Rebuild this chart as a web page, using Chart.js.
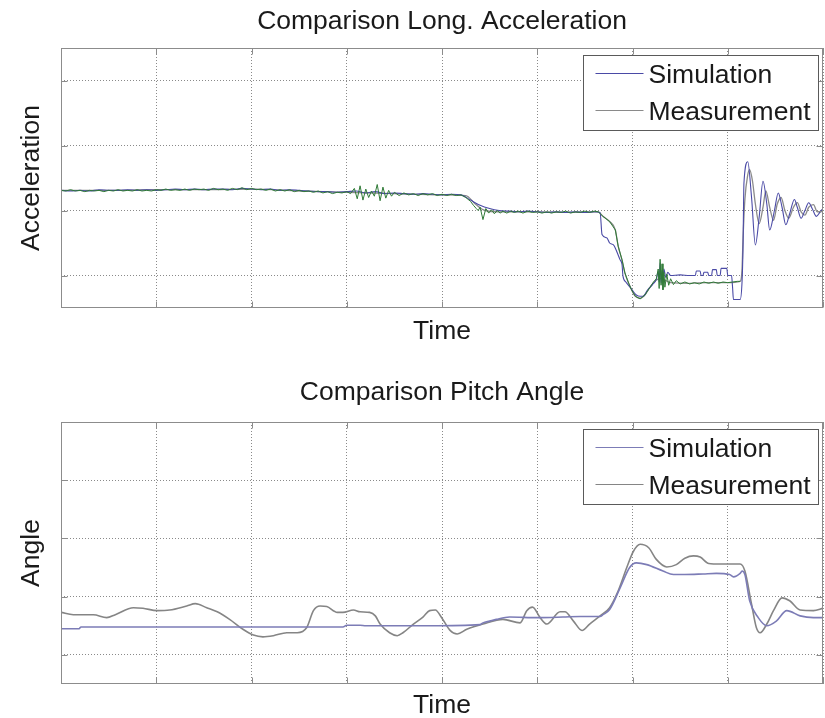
<!DOCTYPE html>
<html>
<head>
<meta charset="utf-8">
<script src="https://cdn.jsdelivr.net/npm/chart.js@4.4.1/dist/chart.umd.min.js"></script>
<style>
  html, body { margin: 0; padding: 0; background: #fff; overflow: hidden; }
  #wrap { position: relative; width: 825px; height: 718px; }
  canvas { position: absolute; left: 0; }
</style>
</head>
<body>
<div id="wrap">
  <canvas id="accChart" width="825" height="358" style="top:0px"></canvas>
  <canvas id="pitchChart" width="825" height="362" style="top:358px"></canvas>
</div>
<script>
// ---------- DATA (time in grid units, values in grid units, no real scale shown)
var timeTicks = [0, 1, 2, 3, 4, 5, 6, 7, 8];
var accYTicks = [0, 1, 2, 3];
var pitchYTicks = [0, 1, 2, 3];

// LONG. ACCELERATION - simulation
var accSimT = [
  0.00, 0.10, 0.20, 0.30, 0.40, 0.50, 0.60, 0.70, 0.80, 0.90,
  1.00, 1.10, 1.20, 1.30, 1.40, 1.50, 1.60, 1.70, 1.80, 1.90,
  2.00, 2.10, 2.20, 2.30, 2.40, 2.50, 2.60, 2.70, 2.80, 2.90,
  3.00, 3.10, 3.20, 3.30, 3.40, 3.50, 3.60, 3.70, 3.80, 3.90,
  4.00, 4.10, 4.20, 4.30, 4.40, 4.50, 4.60, 4.70, 4.80, 4.90,
  5.00, 5.10, 5.20, 5.30, 5.40, 5.50, 5.60, 5.66, 5.68, 5.73,
  5.76, 5.80, 5.82, 5.87, 5.89, 5.90, 5.93, 5.97, 6.01, 6.04,
  6.08, 6.11, 6.16, 6.21, 6.25, 6.27, 6.28, 6.29, 6.30, 6.31,
  6.32, 6.33, 6.35, 6.37, 6.40, 6.50, 6.60, 6.66, 6.67, 6.71,
  6.72, 6.74, 6.75, 6.79, 6.80, 6.83, 6.84, 6.88, 6.89, 6.92,
  6.93, 6.99, 7.00, 7.04, 7.05, 7.06, 7.13, 7.15, 7.16, 7.17,
  7.21, 7.25, 7.29, 7.33, 7.37, 7.41, 7.44, 7.49, 7.53, 7.57,
  7.61, 7.65, 7.70, 7.73, 7.77, 7.81, 7.85, 7.89, 7.93, 7.97, 8.00
];
var accSim = [
  1.31, 1.30, 1.31, 1.30, 1.32, 1.31, 1.31, 1.32, 1.31, 1.32,
  1.31, 1.32, 1.33, 1.32, 1.33, 1.32, 1.33, 1.33, 1.32, 1.34,
  1.33, 1.32, 1.33, 1.31, 1.32, 1.31, 1.30, 1.29, 1.29, 1.28,
  1.29, 1.30, 1.27, 1.29, 1.26, 1.27, 1.26, 1.25, 1.26, 1.25,
  1.24, 1.25, 1.24, 1.16, 1.08, 1.03, 1.00, 0.99, 0.98, 0.99,
  0.98, 0.97, 0.98, 0.97, 0.98, 0.97, 0.98, 0.97, 0.63, 0.58,
  0.50, 0.47, 0.42, 0.24, 0.17, -0.01, -0.10, -0.17, -0.25, -0.30,
  -0.32, -0.32, -0.22, -0.14, -0.06, 0.06, -0.10, 0.20, -0.12, 0.08,
  -0.06, 0.10, -0.03, 0.05, 0.00, 0.01, 0.00, 0.00, 0.07, 0.07,
  0.00, 0.00, 0.05, 0.05, 0.00, 0.00, 0.09, 0.09, 0.00, 0.00,
  0.11, 0.11, 0.00, 0.00, -0.17, -0.37, -0.37, -0.10, 0.40, 1.42,
  1.75, 1.20, 0.47, 0.90, 1.45, 1.10, 0.70, 1.00, 1.27, 1.05,
  0.78, 0.95, 1.17, 1.05, 0.88, 1.00, 1.12, 1.02, 0.91, 0.98, 1.03
];

// LONG. ACCELERATION - measurement (filtered)
var accMeasT = [
  0.00, 0.50, 1.00, 1.50, 2.00, 2.50, 3.00, 3.50, 4.00, 4.25,
  4.35, 4.45, 4.60, 5.00, 5.30, 5.64, 5.69, 5.76, 5.82, 5.85,
  5.89, 5.92, 5.96, 5.99, 6.03, 6.08, 6.13, 6.18, 6.25, 6.30,
  6.35, 6.40, 6.60, 6.80, 7.00, 7.13, 7.15, 7.16, 7.18, 7.21,
  7.23, 7.26, 7.29, 7.33, 7.37, 7.40, 7.44, 7.48, 7.52, 7.56,
  7.60, 7.64, 7.69, 7.73, 7.77, 7.81, 7.85, 7.90, 7.94, 7.98, 8.00
];
var accMeas = [
  1.31, 1.31, 1.32, 1.32, 1.33, 1.30, 1.28, 1.26, 1.24, 1.23,
  1.10, 1.00, 0.98, 0.98, 0.97, 0.98, 0.91, 0.83, 0.70, 0.45,
  0.24, 0.04, -0.12, -0.22, -0.32, -0.35, -0.30, -0.19, -0.07, -0.05,
  -0.08, -0.11, -0.12, -0.11, -0.11, -0.09, 0.10, 0.55, 1.17, 1.55,
  1.63, 1.45, 1.10, 0.80, 1.05, 1.30, 1.05, 0.85, 1.10, 1.20,
  1.00, 0.88, 1.05, 1.12, 0.98, 0.93, 1.05, 1.09, 0.98, 0.98, 1.03
];

// LONG. ACCELERATION - measurement (raw, noisy green trace)
var accRawT = [
  0.00, 0.05, 0.10, 0.15, 0.20, 0.25, 0.30, 0.35, 0.40, 0.45, 0.50, 0.55, 0.60, 0.65, 0.70, 0.75, 0.80, 0.85, 0.90, 0.95,
  1.00, 1.05, 1.10, 1.15, 1.20, 1.25, 1.30, 1.35, 1.40, 1.45, 1.50, 1.55, 1.60, 1.65, 1.70, 1.75, 1.80, 1.85, 1.90, 1.95,
  2.00, 2.05, 2.10, 2.15, 2.20, 2.25, 2.30, 2.35, 2.40, 2.45, 2.50, 2.55, 2.60, 2.65, 2.70, 2.75, 2.80, 2.85, 2.90, 2.95,
  3.00, 3.04, 3.08, 3.11, 3.14, 3.17, 3.20, 3.23, 3.26, 3.29, 3.32, 3.35, 3.38, 3.41, 3.44, 3.47, 3.50, 3.55, 3.60, 3.65,
  3.70, 3.75, 3.80, 3.85, 3.90, 3.95, 4.00, 4.05, 4.10, 4.15, 4.20, 4.25, 4.30, 4.33, 4.36, 4.38, 4.40, 4.43, 4.46, 4.49,
  4.52, 4.55, 4.58, 4.61, 4.64, 4.68, 4.72, 4.76, 4.80, 4.85, 4.90, 4.95, 5.00, 5.05, 5.10, 5.15, 5.20, 5.25, 5.30, 5.35,
  5.40, 5.45, 5.50, 5.55, 5.60, 5.64, 5.69, 5.76, 5.82, 5.85, 5.89, 5.92, 5.96, 5.99, 6.03, 6.08, 6.13, 6.18, 6.22, 6.25,
  6.27, 6.28, 6.29, 6.30, 6.31, 6.32, 6.33, 6.34, 6.36, 6.38, 6.40, 6.43, 6.46, 6.50, 6.55, 6.60, 6.65, 6.70, 6.75, 6.80,
  6.85, 6.90, 6.95, 7.00, 7.05, 7.10, 7.13
];
var accRaw = [
  1.31, 1.30, 1.32, 1.30, 1.31, 1.29, 1.31, 1.30, 1.31, 1.29, 1.31, 1.30, 1.32, 1.30, 1.31, 1.30, 1.32, 1.30, 1.31, 1.30,
  1.32, 1.31, 1.33, 1.31, 1.32, 1.31, 1.33, 1.31, 1.33, 1.32, 1.33, 1.31, 1.34, 1.32, 1.33, 1.31, 1.34, 1.32, 1.35, 1.32,
  1.34, 1.32, 1.33, 1.31, 1.33, 1.30, 1.32, 1.30, 1.32, 1.29, 1.31, 1.29, 1.30, 1.28, 1.30, 1.27, 1.29, 1.26, 1.28, 1.27,
  1.29, 1.26, 1.34, 1.18, 1.38, 1.16, 1.33, 1.20, 1.30, 1.22, 1.40, 1.15, 1.36, 1.19, 1.31, 1.22, 1.28, 1.23, 1.27, 1.24,
  1.26, 1.23, 1.26, 1.24, 1.26, 1.23, 1.25, 1.23, 1.25, 1.23, 1.24, 1.20, 1.14, 1.08, 1.03, 1.00, 1.05, 0.86, 1.03, 0.96,
  1.01, 0.95, 1.00, 0.96, 0.99, 0.96, 0.99, 0.97, 0.99, 0.96, 0.99, 0.97, 0.98, 0.96, 0.98, 0.96, 0.98, 0.97, 0.99, 0.96,
  0.98, 0.97, 0.99, 0.97, 0.99, 0.98, 0.91, 0.83, 0.70, 0.45, 0.24, 0.04, -0.12, -0.22, -0.32, -0.36, -0.30, -0.19, -0.10, -0.05,
  0.10, -0.20, 0.25, -0.15, 0.18, -0.22, 0.05, -0.18, 0.02, -0.15, -0.05, -0.14, -0.08, -0.13, -0.10, -0.13, -0.11, -0.13, -0.10, -0.12,
  -0.10, -0.12, -0.10, -0.11, -0.10, -0.09, -0.09
];

// PITCH ANGLE - simulation
var angSimT = [
  0.00, 0.19, 0.21, 1.00, 2.00, 2.96, 3.00, 3.14, 3.20, 3.87,
  4.40, 4.43, 4.50, 4.57, 4.71, 5.00, 5.27, 5.45, 5.66, 5.69,
  5.76, 5.87, 5.97, 6.04, 6.15, 6.32, 6.43, 6.55, 6.74, 6.88,
  7.02, 7.06, 7.13, 7.15, 7.18, 7.23, 7.32, 7.41, 7.51, 7.62,
  7.76, 7.90, 8.00
];
var angSim = [
  0.45, 0.45, 0.48, 0.48, 0.48, 0.48, 0.51, 0.51, 0.50, 0.50,
  0.52, 0.55, 0.58, 0.61, 0.65, 0.64, 0.65, 0.66, 0.66, 0.69,
  0.78, 1.15, 1.50, 1.58, 1.55, 1.44, 1.38, 1.38, 1.39, 1.40,
  1.38, 1.34, 1.40, 1.44, 1.38, 0.93, 0.64, 0.50, 0.58, 0.76,
  0.67, 0.64, 0.64
];

// PITCH ANGLE - measurement
var angMeasT = [
  0.00, 0.13, 0.34, 0.48, 0.57, 0.76, 0.86, 1.01, 1.14, 1.32,
  1.41, 1.53, 1.64, 1.77, 1.91, 2.02, 2.12, 2.23, 2.37, 2.48,
  2.58, 2.65, 2.72, 2.79, 2.90, 2.96, 3.07, 3.14, 3.24, 3.30,
  3.35, 3.45, 3.53, 3.59, 3.70, 3.80, 3.87, 3.93, 4.00, 4.08,
  4.16, 4.26, 4.43, 4.64, 4.82, 4.89, 4.95, 5.03, 5.10, 5.24,
  5.29, 5.38, 5.47, 5.55, 5.66, 5.76, 5.85, 5.94, 6.01, 6.08,
  6.17, 6.25, 6.36, 6.46, 6.55, 6.64, 6.71, 6.80, 6.92, 7.13,
  7.18, 7.25, 7.30, 7.34, 7.41, 7.48, 7.57, 7.65, 7.76, 7.90, 8.00
];
var angMeas = [
  0.73, 0.69, 0.69, 0.64, 0.69, 0.81, 0.80, 0.76, 0.77, 0.84,
  0.88, 0.81, 0.74, 0.61, 0.44, 0.34, 0.31, 0.33, 0.38, 0.38,
  0.47, 0.76, 0.84, 0.83, 0.73, 0.73, 0.77, 0.74, 0.73, 0.67,
  0.53, 0.38, 0.33, 0.38, 0.53, 0.65, 0.76, 0.77, 0.63, 0.43,
  0.36, 0.44, 0.53, 0.61, 0.55, 0.76, 0.82, 0.64, 0.53, 0.74,
  0.74, 0.58, 0.42, 0.53, 0.67, 0.81, 1.10, 1.50, 1.78, 1.90,
  1.84, 1.64, 1.51, 1.55, 1.66, 1.70, 1.68, 1.57, 1.56, 1.56,
  1.44, 0.87, 0.47, 0.38, 0.53, 0.76, 0.98, 0.93, 0.77, 0.76, 0.80
];

// ---------- GENERAL
var FONT = '"Liberation Sans", Arial, Helvetica, sans-serif';
var TXT = '#1a1a1a';
var GRID = '#8a8a8a';

function pairs(xs, ys) {
  return xs.map(function (x, i) { return {x: x, y: ys[i]}; });
}

// solid box round the plot + small inner tick marks (matlab style)
var framePlugin = {
  id: 'frame',
  afterDatasetsDraw: function (chart) {
    var ctx = chart.ctx, a = chart.chartArea, sx = chart.scales.x, sy = chart.scales.y;
    var L = Math.round(a.left) + 0.5, R = Math.round(a.right) - 0.5;
    var T = Math.round(a.top) + 0.5, B = Math.round(a.bottom) - 0.5;
    ctx.save();
    ctx.setLineDash([]);
    ctx.lineWidth = 1;
    ctx.strokeStyle = '#8c8c8c';
    ctx.beginPath();
    sy.ticks.forEach(function (t) {
      var y = Math.round(sy.getPixelForValue(t.value)) + 0.5;
      ctx.moveTo(L, y); ctx.lineTo(L + 6, y);
      ctx.moveTo(R, y); ctx.lineTo(R - 6, y);
    });
    sx.ticks.forEach(function (t) {
      var x = Math.round(sx.getPixelForValue(t.value)) + 0.5;
      ctx.moveTo(x, B); ctx.lineTo(x, B - 6);
      ctx.moveTo(x, T); ctx.lineTo(x, T + 6);
    });
    ctx.stroke();
    ctx.strokeRect(L, T, R - L, B - T);
    ctx.restore();
  }
};

// legend with a box, top right inside the plot
var boxLegendPlugin = {
  id: 'boxLegend',
  afterDraw: function (chart) {
    var ctx = chart.ctx, a = chart.chartArea;
    var items = chart.data.datasets.filter(function (d) { return d.inLegend; });
    var w = 235, h = 75;
    var x0 = Math.round(a.right - 5 - w) + 0.5, y0 = Math.round(a.top + 7) + 0.5;
    ctx.save();
    ctx.fillStyle = '#fff';
    ctx.fillRect(x0, y0, w, h);
    ctx.strokeStyle = '#5a5a5a';
    ctx.lineWidth = 1;
    ctx.strokeRect(x0, y0, w, h);
    ctx.font = '26.5px ' + FONT;
    ctx.textBaseline = 'middle';
    items.forEach(function (d, i) {
      var ly = y0 + 18 + i * 37;
      ctx.strokeStyle = d.borderColor;
      ctx.lineWidth = 1.2;
      ctx.beginPath();
      ctx.moveTo(x0 + 12, ly);
      ctx.lineTo(x0 + 60, ly);
      ctx.stroke();
      ctx.fillStyle = TXT;
      ctx.fillText(d.label, x0 + 65, ly + 2.5);
    });
    ctx.restore();
  }
};

function makeOptions(titleText, yTitle, yMin, yMax, yTicks, pads) {
  return {
    responsive: false,
    animation: false,
    layout: {padding: {left: 3, right: 2, top: 0, bottom: pads.layoutBottom}},
    plugins: {
      legend: {display: false},
      tooltip: {enabled: false},
      title: {
        display: true, text: titleText, fullSize: false, color: TXT,
        font: {family: FONT, size: 26.5, weight: 'normal', lineHeight: 1},
        padding: {top: pads.titleTop, bottom: pads.titleBottom}
      }
    },
    elements: {point: {radius: 0}},
    scales: {
      x: {
        type: 'linear', min: 0, max: 8,
        afterBuildTicks: function (s) { s.ticks = timeTicks.map(function (v) { return {value: v}; }); },
        ticks: {display: false},
        grid: {color: GRID, drawTicks: false, lineWidth: 1},
        border: {display: false, dash: [1, 2]},
        title: {
          display: true, text: 'Time', color: TXT,
          font: {family: FONT, size: 26.5, weight: 'normal', lineHeight: 1},
          padding: {top: pads.xTitleTop, bottom: 0}
        }
      },
      y: {
        type: 'linear', min: yMin, max: yMax,
        afterBuildTicks: function (s) { s.ticks = yTicks.map(function (v) { return {value: v}; }); },
        ticks: {display: false},
        grid: {color: GRID, drawTicks: false, lineWidth: 1},
        border: {display: false, dash: [1, 2]},
        title: {
          display: true, text: yTitle, color: TXT,
          font: {family: FONT, size: 26.5, weight: 'normal', lineHeight: 1},
          padding: {top: 15, bottom: 16.5}
        }
      }
    }
  };
}

// ---------- LONG. ACCELERATION
new Chart(document.getElementById('accChart').getContext('2d'), {
  type: 'line',
  data: {
    datasets: [{
      label: 'Simulation', inLegend: true, order: 1,
      data: pairs(accSimT, accSim),
      borderColor: '#4a4aa6', borderWidth: 1.1, cubicInterpolationMode: 'monotone'
    }, {
      label: 'Measurement', inLegend: true, order: 2,
      data: pairs(accMeasT, accMeas),
      borderColor: '#8a8a8a', borderWidth: 1.3, cubicInterpolationMode: 'monotone'
    }, {
      label: 'Measurement raw', inLegend: false, order: 0,
      data: pairs(accRawT, accRaw),
      borderColor: '#2f7a36', borderWidth: 1, tension: 0
    }]
  },
  options: makeOptions('Comparison Long. Acceleration', 'Acceleration', -0.5, 3.5, accYTicks,
    {layoutBottom: 13, titleTop: 8, titleBottom: 13.5, xTitleTop: 10.5}),
  plugins: [framePlugin, boxLegendPlugin]
});

// ---------- PITCH ANGLE
new Chart(document.getElementById('pitchChart').getContext('2d'), {
  type: 'line',
  data: {
    datasets: [{
      label: 'Simulation', inLegend: true, order: 0,
      data: pairs(angSimT, angSim),
      borderColor: '#7c7cb6', borderWidth: 1.6, cubicInterpolationMode: 'monotone'
    }, {
      label: 'Measurement', inLegend: true, order: 1,
      data: pairs(angMeasT, angMeas),
      borderColor: '#858585', borderWidth: 1.6, cubicInterpolationMode: 'monotone'
    }]
  },
  options: makeOptions('Comparison Pitch Angle', 'Angle', -0.5, 4, pitchYTicks,
    {layoutBottom: 0.75, titleTop: 21.75, titleBottom: 15.75, xTitleTop: 8.75}),
  plugins: [framePlugin, boxLegendPlugin]
});
</script>
</body>
</html>
